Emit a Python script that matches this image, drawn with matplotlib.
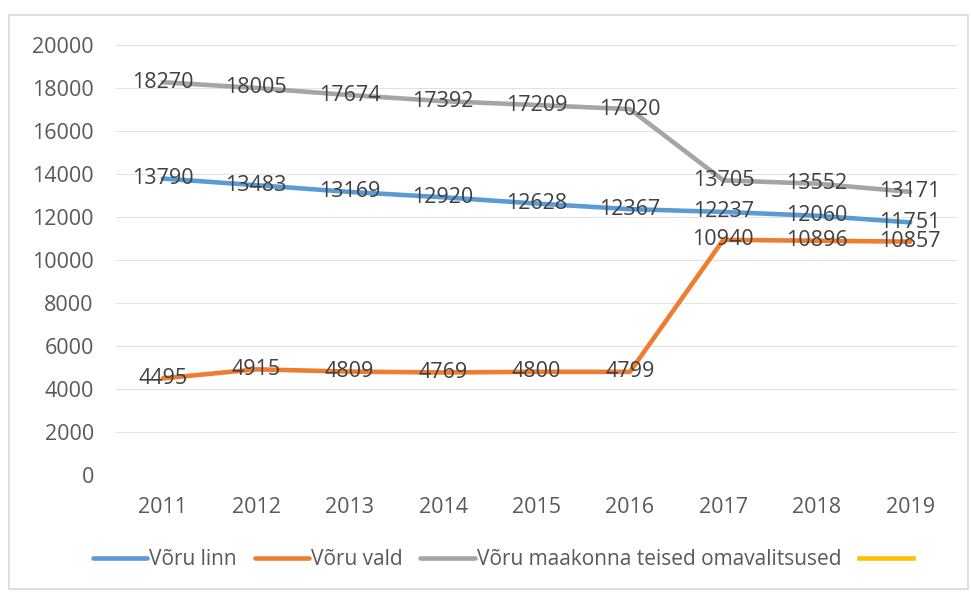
import matplotlib.pyplot as plt
from matplotlib.patches import Rectangle

years = ["2011", "2012", "2013", "2014", "2015", "2016", "2017", "2018", "2019"]
voru_linn = [13790, 13483, 13169, 12920, 12628, 12367, 12237, 12060, 11751]
voru_vald = [4495, 4915, 4809, 4769, 4800, 4799, 10940, 10896, 10857]
teised = [18270, 18005, 17674, 17392, 17209, 17020, 13705, 13552, 13171]
y_ticks = [0, 2000, 4000, 6000, 8000, 10000, 12000, 14000, 16000, 18000, 20000]

plt.rcParams["font.family"] = ["Open Sans", "DejaVu Sans"]

fig = plt.figure(figsize=(9.71, 5.93), dpi=100)
fig.patches.append(Rectangle((0.009, 0.006), 0.988, 0.968, transform=fig.transFigure,
                             fill=False, edgecolor="#D9D9D9", linewidth=1.2))
ax = fig.add_axes([0.1195, 0.199, 0.866, 0.725])

x = list(range(len(years)))
series = [
    (voru_linn, "Võru linn", "#5B9BD5"),
    (voru_vald, "Võru vald", "#ED7D31"),
    (teised, "Võru maakonna teised omavalitsused", "#A5A5A5"),
]
for values, label, color in series:
    ax.plot(x, values, color=color, linewidth=3.3, label=label, solid_capstyle="round")
    for xi, v in zip(x, values):
        ax.text(xi, v, str(v), ha="center", va="center", fontsize=15.5, color="#404040")

# empty fourth series, only in the legend
ax.plot([], [], color="#FFC000", linewidth=3.3, label=" ")

ax.set_xlim(-0.5, len(years) - 0.5)
ax.set_ylim(0, 20000)
ax.set_xticks(x)
ax.set_xticklabels(years)
ax.set_yticks(y_ticks)
ax.tick_params(length=0, labelsize=15.5, labelcolor="#595959")
ax.tick_params(axis="x", pad=16)
ax.tick_params(axis="y", pad=16)
ax.grid(axis="y", color="#E3E3E3", linewidth=0.8)
ax.set_axisbelow(True)
for s in ax.spines.values():
    s.set_visible(False)

fig.legend(loc="center", bbox_to_anchor=(0.522, 0.056), ncol=4, frameon=False,
           fontsize=15, labelcolor="#595959", handlelength=2.6, handletextpad=0.1,
           columnspacing=0.85)

fig.savefig("out.png", dpi=100)
